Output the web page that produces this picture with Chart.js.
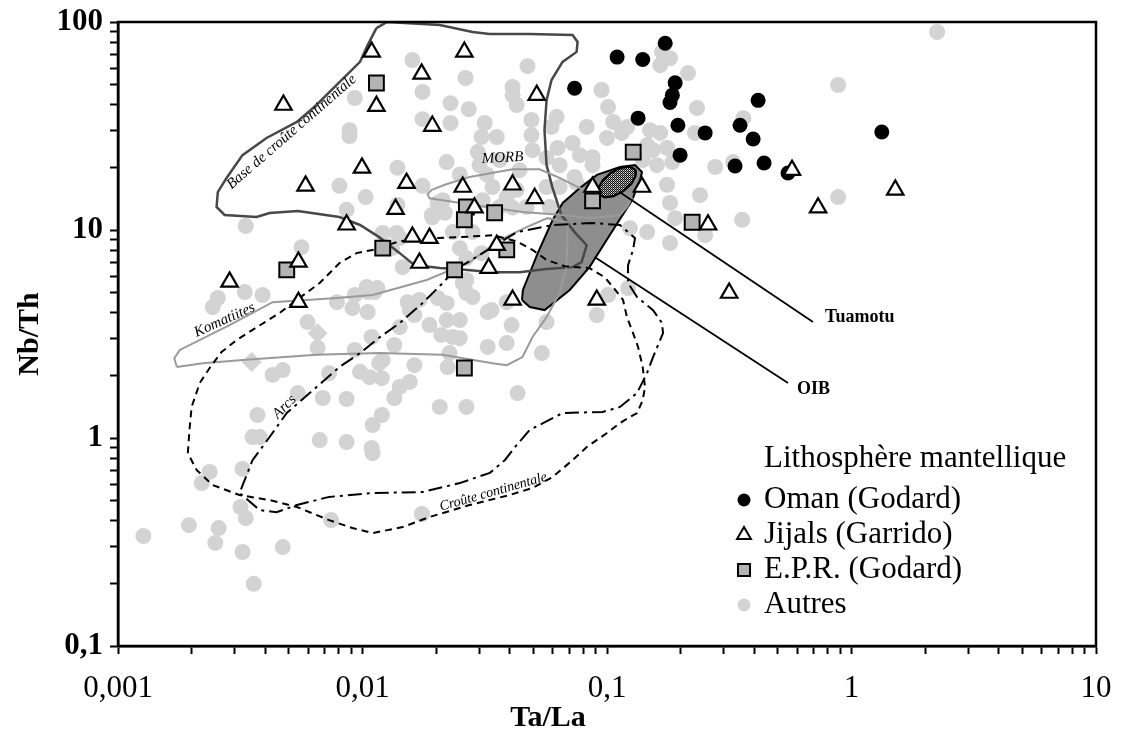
<!DOCTYPE html>
<html lang="fr">
<head>
    <meta charset="UTF-8">
    <title>Nb/Th vs Ta/La</title>
    <script src="https://cdn.jsdelivr.net/npm/chart.js"></script>
    <style>
        html, body { margin: 0; padding: 0; background: #fff; }
        #wrap { width: 1121px; height: 744px; }
    </style>
</head>
<body>
<div id="wrap"><canvas id="myChart" width="1121" height="744"></canvas></div>
<script>
    // axis ticks
    const xDecades = [0.001, 0.01, 0.1, 1, 10];
    const xTickLabels = ['0,001', '0,01', '0,1', '1', '10'];
    const yDecades = [0.1, 1, 10, 100];
    const yTickLabels = ['0,1', '1', '10', '100'];

    // samples: [Ta/La, Nb/Th]
    const omanPoints = [[0.173,79],[0.110,67.8],[0.140,66],[0.0737,48],[0.190,51],[0.185,44.5],[0.181,41],[0.415,42],
        [0.134,34.5],[0.195,31.9],[0.252,29.3],[0.350,31.9],[0.396,27.4],[0.199,22.9],[0.334,20.3],[0.439,21.0],
        [0.550,18.8],[1.33,29.6]];
    const jijalsPoints = [[0.0109,71.8],[0.0261,71.8],[0.01745,56.3],[0.00475,39.9],[0.0114,39.4],[0.0193,31.6],
        [0.0516,44.5],[0.00995,19.9],[0.00585,16.3],[0.01514,16.8],[0.0257,16.1],[0.0411,16.5],[0.0506,14.2],
        [0.0873,16.1],[0.139,16.1],[0.01365,12.6],[0.00861,10.6],[0.0287,12.8],[0.0160,9.26],[0.0188,9.14],
        [0.0171,6.94],[0.0354,8.45],[0.0328,6.56],[0.0411,4.61],[0.0908,4.61],[0.00286,5.63],[0.00547,7.02],
        [0.00547,4.50],[0.259,10.6],[0.316,4.98],[0.571,19.4],[0.730,12.8],[1.51,15.6]];
    const eprPoints = [[0.0114,50.9],[0.128,23.7],[0.0873,13.8],[0.223,10.9],[0.0266,12.9],[0.0261,11.2],
        [0.0347,12.1],[0.0049,6.43],[0.0121,8.18],[0.0238,6.43],[0.0389,8.02],[0.0261,2.17]];
    const autresPoints = [[2.24,89.5],[0.0160,65.6],[0.0264,53.8],[0.0473,61.3],[0.0176,46.1],[0.0093,43.1],
        [0.0229,40.7],[0.0272,38.1],[0.0176,34.1],[0.00885,30.2],[0.00885,28.3],[0.0229,32.7],[0.0316,32.7],
        [0.0221,21.2],[0.0139,19.9],[0.00805,16.3],[0.0103,14.4],[0.00861,12.5],[0.0176,16.3],[0.0192,11.8],
        [0.0213,13.9],[0.0139,13.2],[0.00333,10.45],[0.00563,8.27],[0.0121,9.67],[0.0138,9.67],[0.025,8.18],
        [0.0282,9.77],[0.0411,48.7],[0.0427,39.9],[0.095,47.1],[0.101,39.0],[0.0491,33.8],[0.0622,34.9],
        [0.0826,31.3],[0.106,33.1],[0.115,29.3],[0.0354,28.0],[0.0307,28.0],[0.0491,28.6],[0.0723,26.2],
        [0.100,27.7],[0.0628,24.8],[0.0296,23.7],[0.0496,24.2],[0.0774,22.9],[0.0873,22.4],[0.0566,22.2],
        [0.064,20.5],[0.0873,20.5],[0.0737,18.0],[0.0203,13.5],[0.034,16.1],[0.0389,14.4],[0.0427,15.6],
        [0.0566,16.1],[0.064,16.1],[0.075,16.8],[0.031,13.9],[0.0364,12.9],[0.0469,12.9],[0.0583,12.9],
        [0.0217,12.1],[0.0193,11.5],[0.0411,44.5],[0.0593,31.3],[0.168,71.8],[0.165,62],[0.181,67],
        [0.2145,56.8],[0.2335,38.6],[0.361,34.5],[0.121,31.3],[0.150,30.2],[0.165,29.3],[0.229,29.3],
        [0.882,49.8],[0.277,20.1],[0.328,21.2],[0.176,24.8],[0.185,21.2],[0.160,20.5],[0.176,16.5],
        [0.240,14.7],[0.181,13.5],[0.882,14.4],[0.357,11.2],[0.190,11.4],[0.252,9.44],[0.181,8.66],
        [0.146,9.77],[0.124,10.2],[0.146,25.6],[0.154,24.2],[0.140,21.7],[0.00256,4.71],[0.00244,4.26],
        [0.0033,5.03],[0.0039,4.87],[0.00596,3.61],[0.00655,2.71],[0.00786,4.50],[0.0093,4.87],[0.0105,5.03],
        [0.0112,5.03],[0.0091,4.21],[0.0105,4.03],[0.0109,3.06],[0.0142,3.41],[0.0153,4.50],[0.0171,4.61],
        [0.0203,4.71],[0.0221,4.45],[0.0257,5.56],[0.0266,4.98],[0.0325,4.03],[0.0163,3.9],[0.0188,3.49],
        [0.0221,3.69],[0.025,3.69],[0.021,3.13],[0.0234,3.06],[0.0227,2.56],[0.0325,2.74],[0.0093,2.65],
        [0.0121,2.37],[0.0163,2.24],[0.0223,2.19],[0.00429,2.01],[0.00472,2.12],[0.0073,2.05],[0.00977,2.08],
        [0.0107,1.96],[0.012,1.94],[0.0156,1.86],[0.0142,1.76],[0.00544,1.645],[0.00688,1.557],[0.00861,1.54],
        [0.0135,1.557],[0.012,1.29],[0.011,1.155],[0.0207,1.41],[0.0266,1.41],[0.00372,1.29],[0.00355,1.01],
        [0.0038,1.01],[0.00668,0.977],[0.00861,0.956],[0.0109,0.895],[0.011,0.845],[0.00237,0.687],
        [0.0022,0.607],[0.00323,0.710],[0.00317,0.466],[0.00333,0.412],[0.00195,0.381],[0.00258,0.369],
        [0.00127,0.338],[0.0025,0.313],[0.00323,0.283],[0.00472,0.299],[0.00359,0.199],[0.00744,0.403],
        [0.0175,0.431],[0.0234,9.77],[0.0142,9.14],[0.0132,8.18],[0.0266,7.33],[0.0307,7.74],[0.0146,6.63],
        [0.0115,5.26],[0.0104,5.32],[0.0266,5.75],[0.0282,4.76],[0.0156,4.12],[0.0337,4.12],[0.0389,4.5],
        [0.0566,3.61],[0.0407,3.49],[0.0135,2.8],[0.0541,2.56],[0.0389,2.86],[0.0117,2.29],[0.0908,3.9],
        [0.101,4.87],[0.122,5.26],[0.0431,1.645],[0.025,3.02],[0.0411,12.8],[0.0364,21.7],[0.0322,18.5],
        [0.0439,19.4],[0.025,18.5],[0.0301,20.5]];
    const autresDiamonds = [[0.00655,3.19],[0.00352,2.32]];

    // field outlines
    const baseCrouteField = [[0.0114,93.5],[0.0126,100],[0.0207,96.7],[0.0282,89.5],[0.0331,87.6],[0.0482,87.6],
        [0.0723,86.5],[0.0758,80.2],[0.0751,71.8],[0.0658,64.3],[0.0593,52.6],[0.0566,42.1],[0.0555,30.2],
        [0.0566,20.5],[0.0599,15.9],[0.0651,11.8],[0.0737,9.77],[0.0826,8.45],[0.0787,7.0],[0.0723,6.63],
        [0.0566,6.49],[0.0439,6.27],[0.034,6.27],[0.0242,6.49],[0.0207,6.56],[0.0163,6.78],[0.0142,7.74],
        [0.0117,9.24],[0.00977,10.57],[0.00805,11.55],[0.00544,12.34],[0.00417,12.07],[0.00369,11.55],
        [0.00273,11.81],[0.00253,12.9],[0.00256,15.2],[0.00278,17.8],[0.00323,22.9],[0.00405,27.7],
        [0.00539,33.1],[0.00648,39.9],[0.00805,51.4],[0.00977,64.3],[0.0105,77.4],[0.0114,93.5]];
    const morbField = [[0.0192,15.6],[0.0217,16.5],[0.0274,18.0],[0.0411,19.6],[0.053,19.6],[0.064,17.8],
        [0.0774,15.9],[0.0933,15.1],[0.1152,15.2],[0.1266,14.2],[0.1207,12.9],[0.113,11.8],[0.0848,11.4],
        [0.0658,11.8],[0.0451,12.2],[0.034,12.8],[0.02125,13.9],[0.0188,14.2],[0.01845,14.9],[0.0192,15.6]];
    const komatiitesField = [[0.00174,2.195],[0.0017,2.42],[0.00179,2.65],[0.00286,3.49],[0.00429,4.50],
        [0.00786,4.71],[0.0110,4.87],[0.0183,5.75],[0.0274,7.0],[0.0364,8.95],[0.0469,10.33],[0.0571,11.4],
        [0.069,10.9],[0.0684,6.63],[0.064,4.98],[0.0566,3.81],[0.0496,3.06],[0.0451,2.45],[0.0389,2.24],
        [0.034,2.29],[0.02125,2.51],[0.0117,2.56],[0.00648,2.51],[0.00323,2.37],[0.00222,2.29],[0.00174,2.195]];
    const crouteField = [[0.00193,0.845],[0.00196,1.093],[0.0020,1.41],[0.00216,1.838],[0.00237,2.17],
        [0.00265,2.59],[0.00306,2.96],[0.00355,3.31],[0.00458,3.99],[0.00539,4.61],[0.00668,5.56],[0.00805,6.93],
        [0.00946,7.74],[0.0110,8.02],[0.0142,8.83],[0.0201,9.14],[0.025,9.24],[0.034,9.44],[0.0427,8.83],
        [0.0496,8.02],[0.0566,7.18],[0.0671,6.7],[0.0848,6.56],[0.0978,5.93],[0.1058,5.32],[0.1163,4.61],
        [0.1207,3.81],[0.1278,3.19],[0.134,2.74],[0.140,2.19],[0.143,1.76],[0.140,1.52],[0.1327,1.319],
        [0.113,1.181],[0.1,1.057],[0.0826,0.904],[0.0723,0.782],[0.0599,0.649],[0.0496,0.575],[0.040,0.532],
        [0.0274,0.476],[0.0188,0.417],[0.0146,0.373],[0.011,0.349],[0.0091,0.369],[0.0073,0.403],
        [0.00539,0.466],[0.00417,0.503],[0.00314,0.532],[0.00244,0.594],[0.0021,0.700],[0.00193,0.845]];
    const arcsField = [[0.0239,6.43],[0.0213,5.56],[0.0176,4.45],[0.0142,3.57],[0.0118,3.06],[0.00977,2.56],
        [0.00805,2.195],[0.00608,1.646],[0.0049,1.319],[0.00417,1.011],[0.00355,0.782],[0.00314,0.544],
        [0.0038,0.450],[0.00445,0.440],[0.00539,0.476],[0.0073,0.521],[0.011,0.544],[0.0176,0.550],
        [0.025,0.607],[0.0332,0.680],[0.0382,0.782],[0.042,0.904],[0.0483,1.093],[0.0659,1.319],[0.096,1.334],
        [0.113,1.41],[0.1327,1.646],[0.1458,2.054],[0.1543,2.45],[0.1695,3.19],[0.1679,3.57],[0.1543,4.12],
        [0.1327,4.76],[0.1219,5.56],[0.1219,6.78],[0.1278,8.02],[0.1302,9.14],[0.113,10.57],[0.0876,10.8],
        [0.0599,10.57],[0.0428,9.77],[0.031,7.74],[0.0239,6.43]];
    const oibField = [[0.0449,4.61],[0.0453,5.15],[0.0521,7.74],[0.0599,11.17],[0.0659,13.5],[0.0774,15.9],
        [0.0909,18.4],[0.113,20.1],[0.1302,20.5],[0.1391,19.0],[0.1365,17.4],[0.1266,13.9],[0.1058,10.0],
        [0.0848,6.63],[0.0704,5.15],[0.0556,4.12],[0.0483,4.26],[0.0449,4.61]];
    const tuamotuField = [[0.1302,19.55],[0.1311,18.27],[0.1260,16.72],[0.1166,15.39],[0.1063,14.55],
        [0.0980,14.35],[0.0928,14.80],[0.0921,15.85],[0.0960,17.30],[0.1035,18.80],[0.1136,19.89],
        [0.1235,20.17],[0.1302,19.55]];
    const tuamotuLeader = [[0.113,15.2],[0.696,3.61]];
    const oibLeader = [[0.089,7.41],[0.55,1.84]];

    const fieldLabels = [
        { text: 'Base de croûte continentale', x: 0.00513, y: 29.6, angle: -41, font: 'italic 15px' },
        { text: 'MORB', x: 0.0374, y: 22.2, angle: -3, font: 'italic 15px' },
        { text: 'Komatiites', x: 0.00273, y: 3.69, angle: -24, font: 'italic 15px' },
        { text: 'Arcs', x: 0.0048, y: 1.41, angle: -45, font: 'italic 15px' },
        { text: 'Croûte continentale', x: 0.0343, y: 0.55, angle: -16, font: 'italic 14px' },
        { text: 'Tuamotu', x: 0.78, y: 3.81, angle: 0, font: 'bold 18px', align: 'left' },
        { text: 'OIB', x: 0.599, y: 1.72, angle: 0, font: 'bold 18px', align: 'left' }
    ];

    const legendTitle = 'Lithosphère mantellique';
    const SERIF = '"Liberation Serif", "Times New Roman", serif';

    const toXY = arr => arr.map(([x, y]) => ({ x, y }));

    function logTicks(decades) {
        const t = [];
        decades.forEach((d, i) => {
            t.push(d);
            if (i < decades.length - 1) {
                for (let k = 2; k <= 9; k++) t.push(d * k);
            }
        });
        return t;
    }
    const xTickValues = logTicks(xDecades);
    const yTickValues = logTicks(yDecades);

    const ctx = document.getElementById("myChart").getContext("2d");

    // dotted fill for the Tuamotu field
    const tile = document.createElement('canvas');
    tile.width = 2; tile.height = 2;
    const tctx = tile.getContext('2d');
    tctx.fillStyle = '#8a8a8a'; tctx.fillRect(0, 0, 2, 2);
    tctx.fillStyle = '#111'; tctx.fillRect(0, 0, 1, 1); tctx.fillRect(1, 1, 1, 1);
    tctx.fillStyle = '#d8d8d8'; tctx.fillRect(1, 0, 1, 1);
    const dotPattern = ctx.createPattern(tile, 'repeat');

    function field(label, data, color, width, dash, order, extra) {
        return Object.assign({
            type: 'line', label: label, data: toXY(data),
            borderColor: color, borderWidth: width, borderDash: dash,
            pointRadius: 0, tension: 0, fill: false, order: order
        }, extra || {});
    }

    function drawSymbol(c, style, x, y, r, fill, stroke, lw) {
        c.beginPath();
        if (style === 'circle') {
            c.arc(x, y, r, 0, Math.PI * 2);
        } else if (style === 'triangle') {
            c.moveTo(x, y - r);
            c.lineTo(x + r * 0.866, y + r / 2);
            c.lineTo(x - r * 0.866, y + r / 2);
            c.closePath();
        } else {
            const s = r * Math.SQRT1_2;
            c.rect(x - s, y - s, 2 * s, 2 * s);
        }
        c.fillStyle = fill;
        c.fill();
        if (lw) { c.lineWidth = lw; c.strokeStyle = stroke; c.stroke(); }
    }

    const overlayPlugin = {
        id: 'overlay',
        afterDatasetsDraw(chart) {
            const c = chart.ctx;
            const a = chart.chartArea;
            const xs = chart.scales.x, ys = chart.scales.y;
            c.save();
            // frame
            c.strokeStyle = '#000';
            c.lineWidth = 2.5;
            c.strokeRect(a.left, a.top, a.right - a.left, a.bottom - a.top);
            // field labels
            c.fillStyle = '#000';
            fieldLabels.forEach(l => {
                c.save();
                c.translate(xs.getPixelForValue(l.x), ys.getPixelForValue(l.y));
                c.rotate(l.angle * Math.PI / 180);
                c.font = l.font + ' ' + SERIF;
                c.textAlign = l.align || 'center';
                c.textBaseline = 'middle';
                c.fillText(l.text, 0, 0);
                c.restore();
            });
            // x axis title
            c.font = 'bold 30px ' + SERIF;
            c.textAlign = 'center';
            c.textBaseline = 'middle';
            c.fillText('Ta/La', 548, 718);
            // legend
            c.font = '31px ' + SERIF;
            c.textAlign = 'left';
            c.textBaseline = 'alphabetic';
            c.fillText(legendTitle, 764, 467);
            const items = [
                { ds: chart.data.datasets.find(d => d.label === 'Oman (Godard)'), style: 'circle', r: 6.5, lw: 0 },
                { ds: chart.data.datasets.find(d => d.label === 'Jijals (Garrido)'), style: 'triangle', r: 8, lw: 2 },
                { ds: chart.data.datasets.find(d => d.label === 'E.P.R. (Godard)'), style: 'rect', r: 8.5, lw: 2 },
                { ds: chart.data.datasets.find(d => d.label === 'Autres'), style: 'circle', r: 6.5, lw: 0 }
            ];
            items.forEach((it, i) => {
                const base = 508 + i * 35;
                drawSymbol(c, it.style, 744, base - 8, it.r, it.ds.backgroundColor, it.ds.borderColor, it.lw);
                c.fillStyle = '#000';
                c.fillText(it.ds.label, 764, base);
            });
            c.restore();
        }
    };

    window.myChart = new Chart(ctx, {
        type: 'scatter',
        data: {
            datasets: [
                { label: 'Autres', data: toXY(autresPoints), pointStyle: 'circle', pointRadius: 8,
                  backgroundColor: '#d3d3d3', borderColor: '#d3d3d3', borderWidth: 0, order: 20 },
                { label: 'Autres (losanges)', data: toXY(autresDiamonds), pointStyle: 'rectRot', pointRadius: 10,
                  backgroundColor: '#d3d3d3', borderColor: '#d3d3d3', borderWidth: 0, order: 19 },
                field('OIB', oibField, '#000', 2, [], 16, { fill: 'shape', backgroundColor: '#8e8e8e' }),
                field('Base de croûte continentale', baseCrouteField, '#484848', 2.5, [], 15),
                field('MORB', morbField, '#9a9a9a', 2, [], 14),
                field('Komatiites', komatiitesField, '#9a9a9a', 2, [], 13),
                field('Croûte continentale', crouteField, '#000', 2, [7, 5], 12),
                field('Arcs', arcsField, '#000', 2, [14, 5, 3, 5], 11),
                field('Tuamotu', tuamotuField, '#000', 2.2, [], 9, { fill: 'shape', backgroundColor: dotPattern }),
                field('Tuamotu line', tuamotuLeader, '#000', 1.8, [], 8),
                field('OIB line', oibLeader, '#000', 1.8, [], 8),
                { label: 'E.P.R. (Godard)', data: toXY(eprPoints), pointStyle: 'rect', pointRadius: 10.5,
                  backgroundColor: '#b3b3b3', borderColor: '#000', borderWidth: 2, order: 3 },
                { label: 'Oman (Godard)', data: toXY(omanPoints), pointStyle: 'circle', pointRadius: 7.5,
                  backgroundColor: '#000', borderColor: '#000', borderWidth: 0, order: 2 },
                { label: 'Jijals (Garrido)', data: toXY(jijalsPoints), pointStyle: 'triangle', pointRadius: 9.5,
                  backgroundColor: '#fff', borderColor: '#000', borderWidth: 2.2, order: 1 }
            ]
        },
        options: {
            responsive: false,
            animation: false,
            events: [],
            layout: { padding: { top: 22, right: 25, left: 0, bottom: 0 } },
            plugins: {
                legend: { display: false },
                tooltip: { enabled: false }
            },
            scales: {
                x: {
                    type: 'logarithmic',
                    position: 'bottom',
                    min: 0.001,
                    max: 10,
                    afterFit: s => { s.height = 98; s.paddingLeft = 0; s.paddingRight = 0; },
                    afterBuildTicks: s => { s.ticks = xTickValues.map(v => ({ value: v })); },
                    ticks: {
                        autoSkip: false, maxRotation: 0, minRotation: 0, padding: 16, color: '#000',
                        font: { family: SERIF, size: 31 },
                        callback: v => { const i = xDecades.indexOf(v); return i >= 0 ? xTickLabels[i] : ''; }
                    },
                    grid: { drawOnChartArea: false, drawTicks: true, tickLength: 8, tickWidth: 2, tickColor: '#000' },
                    border: { display: true, color: '#000', width: 2.5, z: 1 }
                },
                y: {
                    type: 'logarithmic',
                    position: 'left',
                    min: 0.1,
                    max: 100,
                    afterFit: s => { s.width = 118; s.paddingTop = 0; s.paddingBottom = 0; },
                    afterBuildTicks: s => { s.ticks = yTickValues.map(v => ({ value: v })); },
                    ticks: {
                        autoSkip: false, padding: 7, color: '#000',
                        font: { family: SERIF, size: 31, weight: 'bold' },
                        callback: v => { const i = yDecades.indexOf(v); return i >= 0 ? yTickLabels[i] : ''; }
                    },
                    grid: { drawOnChartArea: false, drawTicks: true, tickLength: 8, tickWidth: 2, tickColor: '#000' },
                    border: { display: true, color: '#000', width: 2.5, z: 1 },
                    title: {
                        display: true, text: 'Nb/Th', color: '#000',
                        font: { family: SERIF, size: 30, weight: 'bold' },
                        padding: { top: 12 }
                    }
                }
            }
        },
        plugins: [overlayPlugin]
    });
</script>
</body>
</html>
